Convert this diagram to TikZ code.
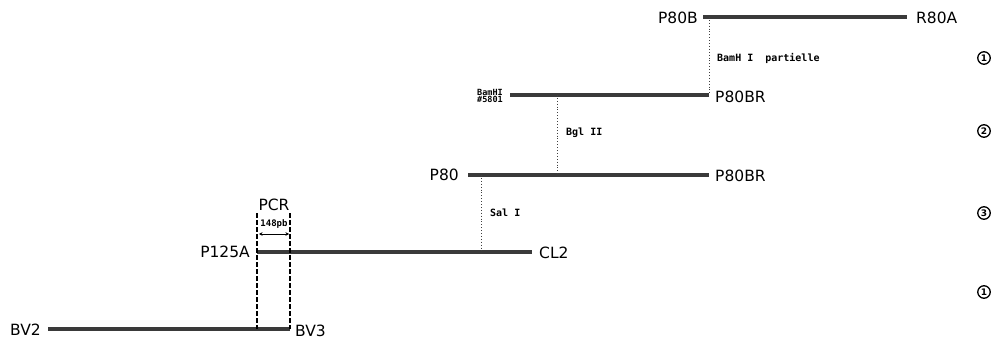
\documentclass[tikz,border=0pt]{standalone}
\usepackage{fontspec}
\setmainfont{DejaVu Sans}
\newfontfamily\smallmono{DejaVu Sans Mono}
\usetikzlibrary{arrows.meta}
\definecolor{linegray}{HTML}{3A3A3A}
\tikzset{
  fragment/.style={draw=linegray, line width=3.4pt},
  siteline/.style={draw=black!75, line width=0.9pt, dotted},
  pcrline/.style={draw=black, line width=1.4pt, dash pattern=on 4.5pt off 2.5pt},
  biglabel/.style={inner sep=0pt, font=\fontsize{15.5}{16}\selectfont},
  sitelabel/.style={inner sep=0pt, font=\smallmono\bfseries\fontsize{10}{10}\selectfont},
  steplabel/.style={circle, draw=black, line width=1.3pt, inner sep=0pt, minimum size=12.5pt, font=\bfseries\fontsize{9}{9}\selectfont},
}
\begin{document}
\begin{tikzpicture}[x=1pt,y=-1pt]
\useasboundingbox (0,0) rectangle (1004,342);
% row 1
\coordinate (r1a) at (703,17); \coordinate (r1b) at (907,17);
\coordinate (s1top) at (709,17); \coordinate (s1bot) at (709,95);
% row 2
\coordinate (r2a) at (510,95); \coordinate (r2b) at (709,95);
\coordinate (s2top) at (557,95); \coordinate (s2bot) at (557,175);
% row 3
\coordinate (r3a) at (468,175); \coordinate (r3b) at (709,175);
\coordinate (s3top) at (481,175); \coordinate (s3bot) at (481,252);
% row 4
\coordinate (r4a) at (257,252); \coordinate (r4b) at (532,252);
% row 5
\coordinate (r5a) at (48,329); \coordinate (r5b) at (290,329);
% PCR
\coordinate (p1top) at (257,213); \coordinate (p1bot) at (257,329);
\coordinate (p2top) at (290,213); \coordinate (p2bot) at (290,329);
\coordinate (arl) at (259,234); \coordinate (arr) at (289,234);

\draw[fragment] (r1a) -- (r1b);
\draw[fragment] (r2a) -- (r2b);
\draw[fragment] (r3a) -- (r3b);
\draw[fragment] (r4a) -- (r4b);
\draw[fragment] (r5a) -- (r5b);

\draw[siteline] (s1top) -- (s1bot);
\draw[siteline] (s2top) -- (s2bot);
\draw[siteline] (s3top) -- (s3bot);

\draw[pcrline] (p1top) -- (p1bot);
\draw[pcrline] (p2top) -- (p2bot);
\draw[line width=1pt, {Stealth[length=3.5pt,width=3.5pt]}-{Stealth[length=3.5pt,width=3.5pt]}] (arl) -- (arr);

\node[biglabel, anchor=east] (p80b) at (698,18) {P80B};
\node[biglabel, anchor=west] (r80a) at (916,18) {R80A};
\node[sitelabel, anchor=west] (bamp) at (717,58) {BamH I\ \ partielle};

\node[inner sep=0pt, anchor=east, align=left, font=\smallmono\bfseries\fontsize{8.5}{7.5}\selectfont] (bam5801) at (503,96) {BamHI\\\#5801};
\node[biglabel, anchor=west] (p80br1) at (715,97) {P80BR};
\node[sitelabel, anchor=west] (bgl) at (566,133) {Bgl II};

\node[biglabel, anchor=east] (p80) at (459,175) {P80};
\node[biglabel, anchor=west] (p80br2) at (715,176) {P80BR};
\node[sitelabel, anchor=west] (sal) at (490,213) {Sal I};

\node[biglabel, anchor=east] (p125a) at (250,252) {P125A};
\node[biglabel, anchor=west] (cl2) at (539,253) {CL2};
\node[biglabel] (pcr) at (274,205) {PCR};
\node[inner sep=0pt, font=\smallmono\bfseries\fontsize{9}{9}\selectfont] (bp) at (274,224) {148pb};

\node[biglabel, anchor=east] (bv2) at (41,330) {BV2};
\node[biglabel, anchor=west] (bv3) at (295,331) {BV3};

\node[steplabel] (c1) at (984,58) {1};
\node[steplabel] (c2) at (984,131) {2};
\node[steplabel] (c3) at (984,213) {3};
\node[steplabel] (c4) at (984,292) {1};
\end{tikzpicture}
\end{document}
